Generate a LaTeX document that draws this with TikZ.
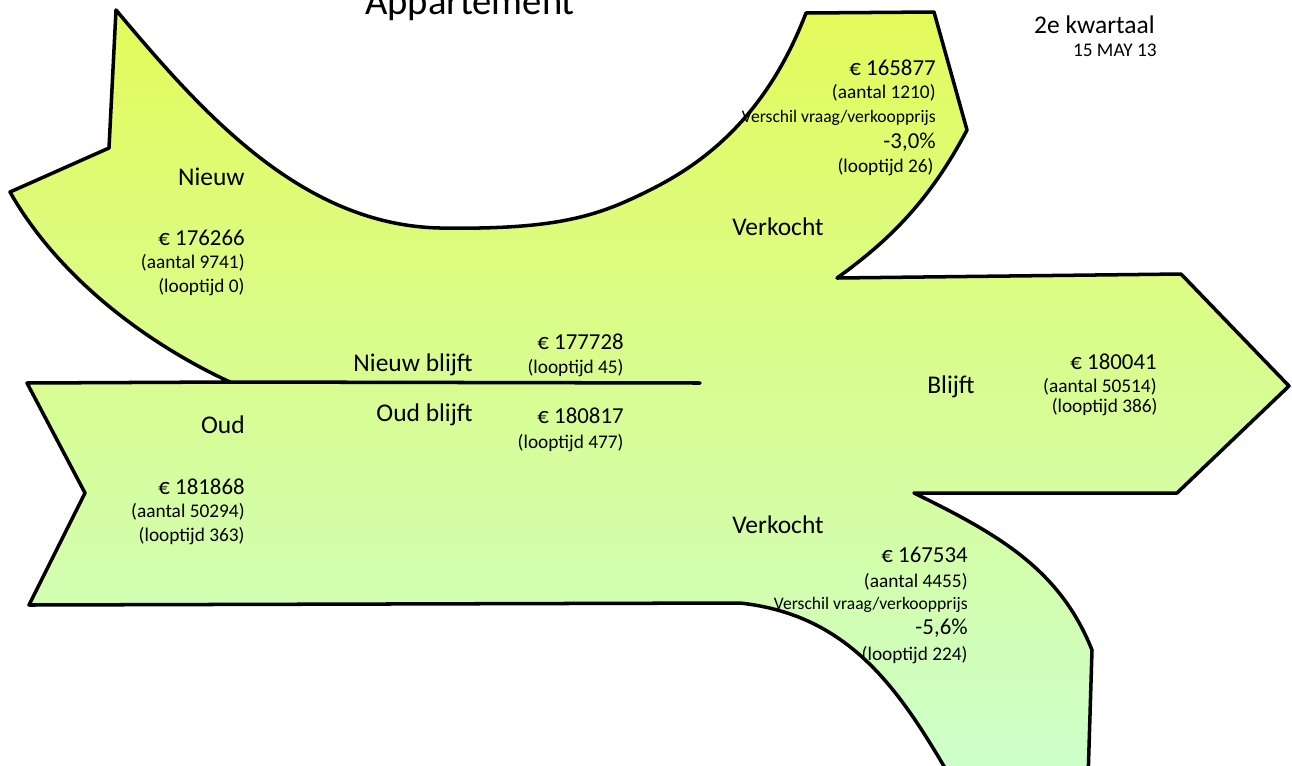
\documentclass[tikz,border=0pt]{standalone}
\usepackage{fontspec}
\setmainfont{Carlito}
\usetikzlibrary{calc,positioning}
\definecolor{topgreen}{RGB}{228,250,90}
\definecolor{midgreen}{RGB}{218,251,150}
\definecolor{botgreen}{RGB}{204,255,204}

\begin{document}
\begin{tikzpicture}[x=0.02cm,y=-0.02cm,line join=round,line cap=round,
	lbl/.style={anchor=east,inner sep=0pt,font=\fontsize{14.5}{17}\selectfont},
	num/.style={anchor=east,inner sep=0pt,font=\fontsize{13}{15}\selectfont},
	sub/.style={anchor=east,inner sep=0pt,font=\fontsize{11}{13}\selectfont},
	note/.style={anchor=east,inner sep=0pt,font=\fontsize{10}{12}\selectfont}]
		\path[use as bounding box] (0,0) rectangle (1292,765);
		\clip (0,0) rectangle (1292,765);
		\coordinate (J) at (230,382);
		\coordinate (L) at (10,192);
		\coordinate (K) at (109,148);
		\coordinate (T) at (116,10);
		\coordinate (U) at (440,228);
		\coordinate (M) at (650,190);
		\coordinate (V1) at (806,13);
		\coordinate (V2) at (934,12);
		\coordinate (V3) at (967,130);
		\coordinate (V4) at (837,278);
		\coordinate (B1) at (1181,274);
		\coordinate (B) at (1289,386);
		\coordinate (B2) at (1177,493);
		\coordinate (W1) at (914,493);
		\coordinate (W2) at (1092,650);
		\coordinate (W3) at (1088,780);
		\coordinate (W4) at (952,780);
		\coordinate (W5) at (740,603);
		\coordinate (O1) at (29,605);
		\coordinate (O2) at (85,493);
		\coordinate (O3) at (27,383);
		\coordinate (D) at (700,383);
		\draw[line width=2pt,top color=topgreen,middle color=midgreen,bottom color=botgreen]
			(J) .. controls (150,345) and (60,280) .. (L) -- (K) -- (T)
			.. controls (200,110) and (300,225) .. (U)
			.. controls (560,230) and (600,215) .. (M)
			.. controls (700,165) and (765,120) .. (V1) -- (V2) -- (V3)
			.. controls (930,200) and (890,240) .. (V4) -- (B1) -- (B) -- (B2) -- (W1)
			.. controls (1000,535) and (1060,570) .. (W2) -- (W3) -- (W4)
			.. controls (900,690) and (850,615) .. (W5) -- (O1) -- (O2) -- (O3) -- cycle;
		\draw[line width=2pt] (J) -- (D);
		% titel en datum
		\node[anchor=base,inner sep=0pt,font=\fontsize{22}{26}\selectfont] (titel) at (470,14) {Appartement};
		\node[anchor=base east,inner sep=0pt,font=\fontsize{14.5}{17}\selectfont] (kwartaal) at (1155,33) {2e kwartaal};
		\node[anchor=base east,inner sep=0pt,font=\fontsize{11}{13}\selectfont] (datum) at (1157,56) {15 MAY 13};
		% nieuw
		\node[lbl] (nieuw) at (245,177) {Nieuw};
		\node[num] (nieuwP) at (245,238) {€ 176266};
		\node[sub] (nieuwA) at (245,263) {(aantal 9741)};
		\node[sub] (nieuwL) at (245,287) {(looptijd 0)};
		\node[lbl] (nieuwB) at (473,365) {Nieuw blijft};
		\node[num] (nieuwBP) at (624,342) {€ 177728};
		\node[sub] (nieuwBL) at (624,368) {(looptijd 45)};
		% oud
		\node[lbl] (oud) at (245,425) {Oud};
		\node[num] (oudP) at (245,487) {€ 181868};
		\node[sub] (oudA) at (245,512) {(aantal 50294)};
		\node[sub] (oudL) at (245,536) {(looptijd 363)};
		\node[lbl] (oudB) at (473,415) {Oud blijft};
		\node[num] (oudBP) at (624,416) {€ 180817};
		\node[sub] (oudBL) at (624,443) {(looptijd 477)};
		% verkocht boven
		\node[num] (verkP) at (936,68) {€ 165877};
		\node[sub] (verkA) at (936,93) {(aantal 1210)};
		\node[note] (verkV) at (936,118) {Verschil vraag/verkoopprijs};
		\node[num] (verkR) at (936,142) {-3,0\%};
		\node[sub] (verkL) at (934,167) {(looptijd 26)};
		\node[lbl] (verk) at (824,227) {Verkocht};
		% blijft
		\node[lbl] (blijft) at (975,387) {Blijft};
		\node[num] (blijftP) at (1157,362) {€ 180041};
		\node[sub] (blijftA) at (1157,387) {(aantal 50514)};
		\node[sub] (blijftL) at (1158,407) {(looptijd 386)};
		% verkocht onder
		\node[lbl] (verkO) at (824,525) {Verkocht};
		\node[num] (verkOP) at (968,555) {€ 167534};
		\node[sub] (verkOA) at (968,582) {(aantal 4455)};
		\node[note] (verkOV) at (968,605) {Verschil vraag/verkoopprijs};
		\node[num] (verkOR) at (968,628) {-5,6\%};
		\node[sub] (verkOL) at (968,655) {(looptijd 224)};
\end{tikzpicture}
\end{document}
